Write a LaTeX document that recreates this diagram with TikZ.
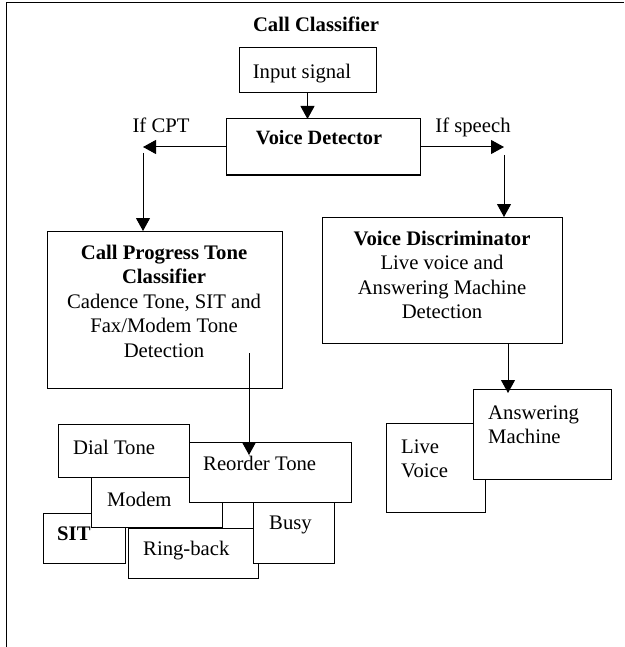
\documentclass[tikz,border=0pt]{standalone}
\usepackage{fontspec}
\setmainfont{Liberation Serif}
\usetikzlibrary{arrows.meta}
\newcommand\linesC[1]{\begin{tabular}[t]{@{}c@{}}#1\end{tabular}}
\newcommand\linesL[1]{\begin{tabular}[t]{@{}l@{}}#1\end{tabular}}
\begin{document}
\begin{tikzpicture}[x=1pt,y=-1pt,
  box/.style={draw,line width=1pt,fill=white,inner sep=0pt,outer sep=0pt,anchor=north west},
  lbl/.style={anchor=base,inner sep=0pt,font=\fontsize{20.7}{24.5}\selectfont},
  lblw/.style={lbl,anchor=base west},
  arr/.style={line width=1pt,-{Triangle[width=14pt,length=13pt]}}]
\useasboundingbox (0,0) rectangle (624,647);

% partial outer frame
\draw[line width=1pt] (6,647) -- (6,3) -- (624,3);

\node[lbl,font=\fontsize{20.7}{24.5}\selectfont\bfseries] (title) at (316,32) {Call Classifier};

% top chain
\node[box,minimum width=137pt,minimum height=45pt] (input) at (239,48) {};
\node[lbl] (inputtxt) at (302,79) {Input signal};
\node[box,minimum width=194pt,minimum height=56pt] (vd) at (226,119) {};
\node[lbl,font=\fontsize{20.3}{24.5}\selectfont\bfseries] (vdtxt) at (319,145) {Voice Detector};
\node[lbl] (ifcpt) at (161,133) {If CPT};
\node[lbl] (ifspeech) at (473,133) {If speech};

% classifier boxes
\node[box,minimum width=235pt,minimum height=157pt] (cpt) at (47,231) {};
\node[lbl] (cpttxt) at (164,259) {\linesC{\textbf{Call Progress Tone}\\ \textbf{Classifier}\\ Cadence Tone, SIT and\\ Fax/Modem Tone\\ Detection}};
\node[box,minimum width=240pt,minimum height=126pt] (vdisc) at (322,217) {};
\node[lbl] (vdisctxt) at (442,245) {\linesC{\textbf{Voice Discriminator}\\ Live voice and\\ Answering Machine\\ Detection}};

% call progress tone results
\node[box,minimum width=82pt,minimum height=50pt] (sit) at (43,513) {};
\node[lblw,font=\fontsize{20.7}{24.5}\selectfont\bfseries] (sittxt) at (57,540) {SIT};
\node[box,minimum width=130pt,minimum height=50pt] (ring) at (128,528) {};
\node[lblw] (ringtxt) at (143,555) {Ring-back};
\node[box,minimum width=131pt,minimum height=50pt] (modem) at (91,477) {};
\node[lblw] (modemtxt) at (107,506) {Modem};
\node[box,minimum width=81pt,minimum height=61pt] (busy) at (253,502) {};
\node[lblw] (busytxt) at (269,529) {Busy};
\node[box,minimum width=131pt,minimum height=53pt] (dial) at (58,424) {};
\node[lblw] (dialtxt) at (73,454) {Dial Tone};
\node[box,minimum width=162pt,minimum height=60pt] (reorder) at (189,442) {};
\node[lblw] (reordertxt) at (203,470) {Reorder Tone};

% voice results
\node[box,minimum width=99pt,minimum height=89pt] (live) at (386,423) {};
\node[lblw] (livetxt) at (401,453) {\linesL{Live\\ Voice}};
\node[box,minimum width=138pt,minimum height=90pt] (answer) at (473,389) {};
\node[lblw] (answertxt) at (488,419) {\linesL{Answering\\ Machine}};

% connectors
\coordinate (lefttip) at (143,147);
\coordinate (leftdrop) at (143,153);
\coordinate (righttip) at (504,147);
\coordinate (rightdrop) at (504,155);
\coordinate (cptout) at (249,353);
\coordinate (amtip) at (508,393);

\draw[arr] (input.south) -- (input.south |- vd.north);
\draw[arr] (vd.west) -- (lefttip);
\draw[arr] (leftdrop) -- (leftdrop |- cpt.north);
\draw[arr] (vd.east) -- (righttip);
\draw[arr] (rightdrop) -- (rightdrop |- vdisc.north);
\draw[arr] (cptout) -- ([yshift=-13pt]cptout |- reorder.north);
\draw[arr] (amtip |- vdisc.south) -- (amtip);
\end{tikzpicture}
\end{document}
